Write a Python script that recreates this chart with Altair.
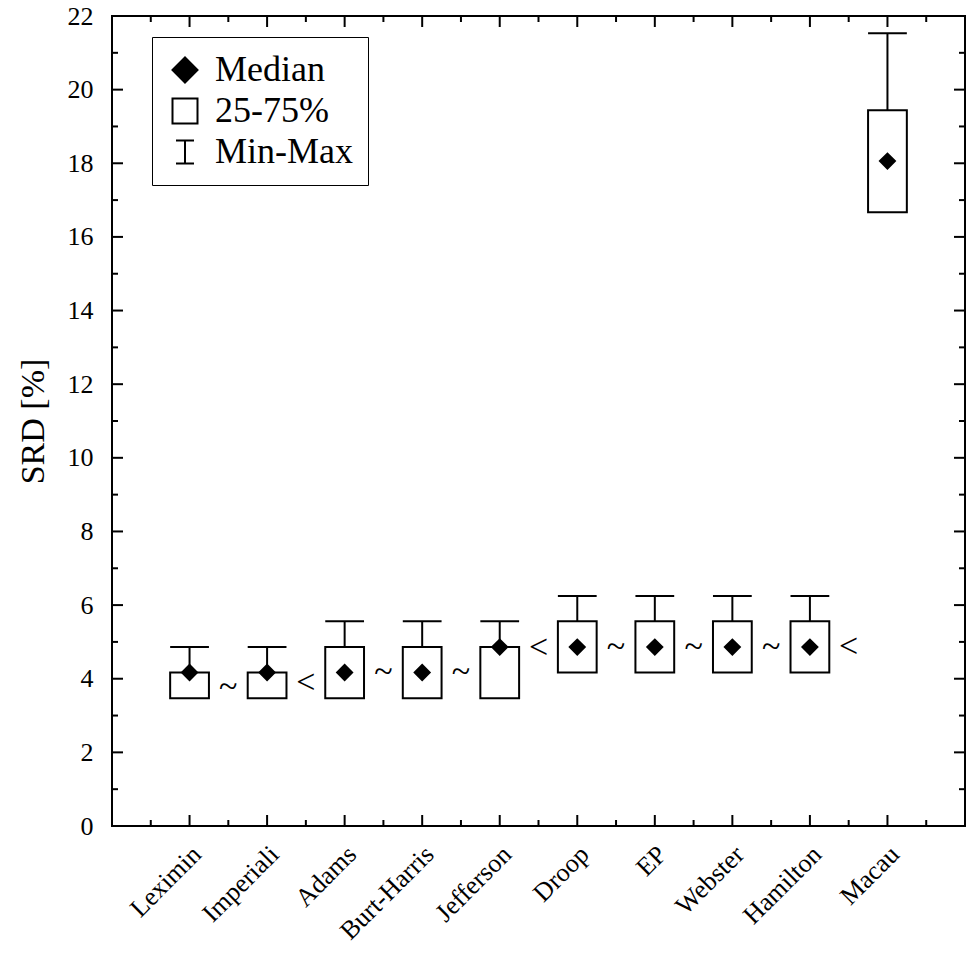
import altair as alt
import pandas as pd

methods = ["Leximin", "Imperiali", "Adams", "Burt-Harris", "Jefferson",
           "Droop", "EP", "Webster", "Hamilton", "Macau"]
positions = [1, 2, 3, 4, 5, 6, 7, 8, 9, 10]
mins = [3.47, 3.47, 3.47, 3.47, 3.47, 4.17, 4.17, 4.17, 4.17, 16.67]
q1 = [3.47, 3.47, 3.47, 3.47, 3.47, 4.17, 4.17, 4.17, 4.17, 16.67]
medians = [4.17, 4.17, 4.17, 4.17, 4.86, 4.86, 4.86, 4.86, 4.86, 18.06]
q3 = [4.17, 4.17, 4.86, 4.86, 4.86, 5.56, 5.56, 5.56, 5.56, 19.44]
maxs = [4.86, 4.86, 5.56, 5.56, 5.56, 6.25, 6.25, 6.25, 6.25, 21.53]

relation_symbols = ["~", "<", "~", "~", "<", "~", "~", "~", "<"]
relation_x = [1.5, 2.5, 3.5, 4.5, 5.5, 6.5, 7.5, 8.5, 9.5]
relation_y = [3.78, 3.89, 4.18, 4.18, 4.84, 4.86, 4.86, 4.86, 4.86]

y_ticks_major = [0, 2, 4, 6, 8, 10, 12, 14, 16, 18, 20, 22]
y_ticks_minor = [1, 3, 5, 7, 9, 11, 13, 15, 17, 19, 21]
x_ticks_major = [1, 2, 3, 4, 5, 6, 7, 8, 9, 10]
x_ticks_minor = [0.5, 1.5, 2.5, 3.5, 4.5, 5.5, 6.5, 7.5, 8.5, 9.5, 10.5]

legend_entries = ["Median", "25-75%", "Min-Max"]

W, H = 853, 810
FONT = "Liberation Serif"
MAJ, MIN = 11, 6

df = pd.DataFrame({"method": methods, "pos": positions, "min": mins, "q1": q1,
                   "median": medians, "q3": q3, "max": maxs})
rel = pd.DataFrame({"sym": relation_symbols, "x": relation_x, "y": relation_y})
yt_major = pd.DataFrame({"v": y_ticks_major})
yt_minor = pd.DataFrame({"v": y_ticks_minor})
xt_major = pd.DataFrame({"v": x_ticks_major})
xt_minor = pd.DataFrame({"v": x_ticks_minor})

label_expr = "[" + ",".join("'" + m + "'" for m in methods) + "][datum.value - 1]"

xscale = alt.Scale(domain=[0, 11], nice=False, zero=False)
yscale = alt.Scale(domain=[0, 22], nice=False)

x_axis = alt.Axis(values=positions, labelExpr=label_expr, title=None, grid=False,
                  ticks=False, tickSize=0, domain=False, labelAngle=-45,
                  labelAlign="right", labelBaseline="middle", labelPadding=24,
                  labelOffset=7, labelOverlap=False, labelFont=FONT,
                  labelFontSize=26, labelColor="black")
y_axis = alt.Axis(values=y_ticks_major, title="SRD [%]", grid=False, ticks=False,
                  tickSize=0, domain=False, labelPadding=19, labelOverlap=False,
                  labelFont=FONT, labelFontSize=26, labelColor="black",
                  titleFont=FONT, titleFontSize=34, titleFontWeight="normal",
                  titleColor="black", titlePadding=17)


def X(field):
    return alt.X(field, scale=xscale, axis=x_axis)


def Y(field):
    return alt.Y(field, scale=yscale, axis=y_axis)


base = alt.Chart(df).transform_calculate(
    lo="datum.pos - 0.25", hi="datum.pos + 0.25", kind="'Median'"
)

boxes = base.mark_rect(fill="white", stroke="black", strokeWidth=2).encode(
    x=X("lo:Q"), x2="hi:Q", y=Y("q1:Q"), y2="q3:Q",
)

whiskers = base.mark_rule(color="black", strokeWidth=2).encode(
    x=X("pos:Q"), y=Y("q3:Q"), y2="max:Q",
)

caps = base.mark_rule(color="black", strokeWidth=2).encode(
    x=X("lo:Q"), x2="hi:Q", y=Y("max:Q"),
)

minmax_path = "M-0.72,-0.92H0.72M0,-0.92V0.92M-0.72,0.92H0.72"
legend = alt.Legend(title=None, orient="none", legendX=40, legendY=21, padding=15,
                    rowPadding=5, labelFont=FONT, labelFontSize=36, labelColor="black",
                    labelOffset=12, symbolSize=625, symbolStrokeColor="black",
                    symbolStrokeWidth=2, symbolOpacity=1, strokeColor="black",
                    fillColor="white")

medians_layer = base.mark_point(filled=True, size=225, strokeWidth=2,
                                opacity=1).encode(
    x=X("pos:Q"),
    y=Y("median:Q"),
    shape=alt.Shape("kind:N", scale=alt.Scale(domain=legend_entries,
                    range=["diamond", "square", minmax_path]), legend=legend),
    fill=alt.Fill("kind:N", scale=alt.Scale(domain=legend_entries,
                  range=["black", "white", "white"]), legend=legend),
    stroke=alt.Stroke("kind:N", scale=alt.Scale(domain=legend_entries,
                      range=["black", "black", "black"]), legend=legend),
)

symbols = alt.Chart(rel).mark_text(font=FONT, fontSize=34, color="black",
                                   baseline="middle", align="center").encode(
    x=X("x:Q"), y=Y("y:Q"), text="sym:N",
)


def yticks(data, x0, x1):
    return alt.Chart(data).mark_rule(color="black", strokeWidth=2).encode(
        y=Y("v:Q"), x=alt.value(x0), x2=alt.value(x1))


def xticks(data, y0, y1):
    return alt.Chart(data).mark_rule(color="black", strokeWidth=2).encode(
        x=X("v:Q"), y=alt.value(y0), y2=alt.value(y1))


ticks = [
    yticks(yt_major, 0, MAJ), yticks(yt_minor, 0, MIN),
    yticks(yt_major, W - MAJ, W), yticks(yt_minor, W - MIN, W),
    xticks(xt_major, H - MAJ, H), xticks(xt_minor, H - MIN, H),
    xticks(xt_major, 0, MAJ), xticks(xt_minor, 0, MIN),
]

chart = alt.layer(boxes, whiskers, caps, medians_layer, symbols, *ticks).properties(
    width=W, height=H,
    autosize=alt.AutoSizeParams(type="none"),
    padding={"left": 112, "top": 16, "right": 5, "bottom": 134},
    background="white",
).configure_view(
    stroke="black", strokeWidth=2
).configure_axis(
    labelFont=FONT, titleFont=FONT, labelColor="black", titleColor="black",
    titleFontWeight="normal", labelOverlap=False
).configure_axisX(
    labelFontSize=26, labelAngle=-45, labelPadding=24, labelOffset=7
).configure_axisY(
    labelFontSize=26, titleFontSize=34, labelPadding=19, titlePadding=17
)

chart.save("out.html", embed_options={"renderer": "svg", "actions": False})
